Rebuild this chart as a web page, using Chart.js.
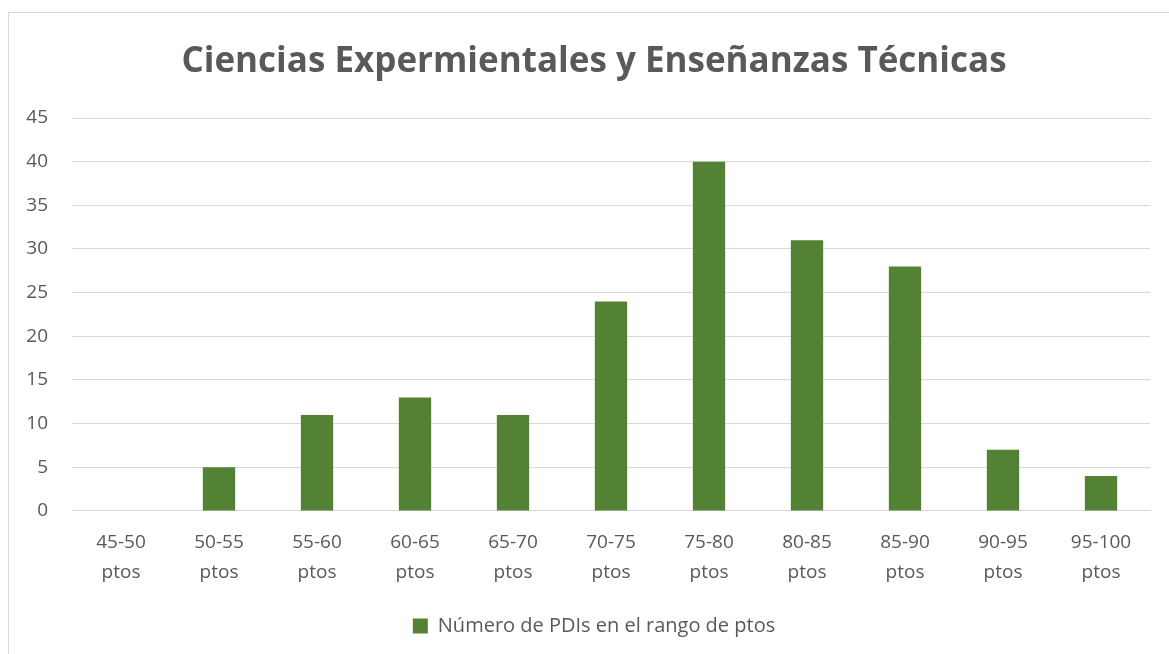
<!DOCTYPE html>
<html>
<head>
<meta charset="utf-8">
<script src="https://cdn.jsdelivr.net/npm/chart.js@4"></script>
<style>
  html, body { margin: 0; padding: 0; background: #ffffff; }
  #frame {
    position: absolute; left: 8px; top: 12px; width: 1180px; height: 660px;
    border: 1px solid #d9d9d9; box-sizing: border-box;
  }
  #wrap { position: absolute; left: 0; top: 0; width: 1169px; height: 654px; }
</style>
</head>
<body>
<div id="frame"></div>
<div id="wrap"><canvas id="chart"></canvas></div>
<script>
// Datos del gráfico
const categories = [
    ['45-50', 'ptos'], ['50-55', 'ptos'], ['55-60', 'ptos'], ['60-65', 'ptos'],
    ['65-70', 'ptos'], ['70-75', 'ptos'], ['75-80', 'ptos'], ['80-85', 'ptos'],
    ['85-90', 'ptos'], ['90-95', 'ptos'], ['95-100', 'ptos']
];
const pdiCounts = [0, 5, 11, 13, 11, 24, 40, 31, 28, 7, 4];
const seriesName = 'Número de PDIs en el rango de ptos';
const chartTitle = 'Ciencias Expermientales y Enseñanzas Técnicas';

const colors = {
    bar: '#548235',
    text: '#595959',
    grid: '#d9d9d9'
};

Chart.defaults.font.family = "'Open Sans', 'Noto Sans', sans-serif";
Chart.defaults.color = colors.text;

new Chart(document.getElementById('chart'), {
    type: 'bar',
    data: {
        labels: categories,
        datasets: [{
            label: seriesName,
            data: pdiCounts,
            backgroundColor: colors.bar,
            borderWidth: 0,
            categoryPercentage: 1.0,
            barPercentage: 0.33
        }]
    },
    options: {
        responsive: true,
        maintainAspectRatio: false,
        animation: false,
        layout: {
            padding: { left: 19, right: 0, top: 0, bottom: 8 }
        },
        scales: {
            y: {
                min: 0,
                max: 45,
                ticks: {
                    stepSize: 5,
                    padding: 24,
                    color: colors.text,
                    font: { size: 19 }
                },
                grid: { color: colors.grid, lineWidth: 1, drawTicks: false },
                border: { display: false },
                afterFit: (scale) => { scale.width = 53; }
            },
            // empty right axis, only keeps the plot edge off the frame
            yRight: {
                position: 'right',
                min: 0,
                max: 45,
                ticks: { display: false },
                grid: { display: false, drawTicks: false },
                border: { display: false },
                afterFit: (scale) => { scale.width = 19; }
            },
            x: {
                ticks: {
                    padding: 17,
                    color: colors.text,
                    maxRotation: 0,
                    autoSkip: false,
                    font: { size: 19, lineHeight: 1.58 }
                },
                grid: { display: false, drawTicks: false },
                border: { display: true, color: colors.grid, width: 1 }
            }
        },
        plugins: {
            title: {
                display: true,
                text: chartTitle,
                color: colors.text,
                font: { size: 35, weight: 'bold' },
                padding: { top: 41, bottom: 35 }
            },
            legend: {
                position: 'bottom',
                labels: {
                    color: colors.text,
                    font: { size: 20 },
                    boxWidth: 15,
                    boxHeight: 15,
                    padding: 11
                }
            },
            tooltip: { enabled: false }
        }
    }
});
</script>
</body>
</html>
